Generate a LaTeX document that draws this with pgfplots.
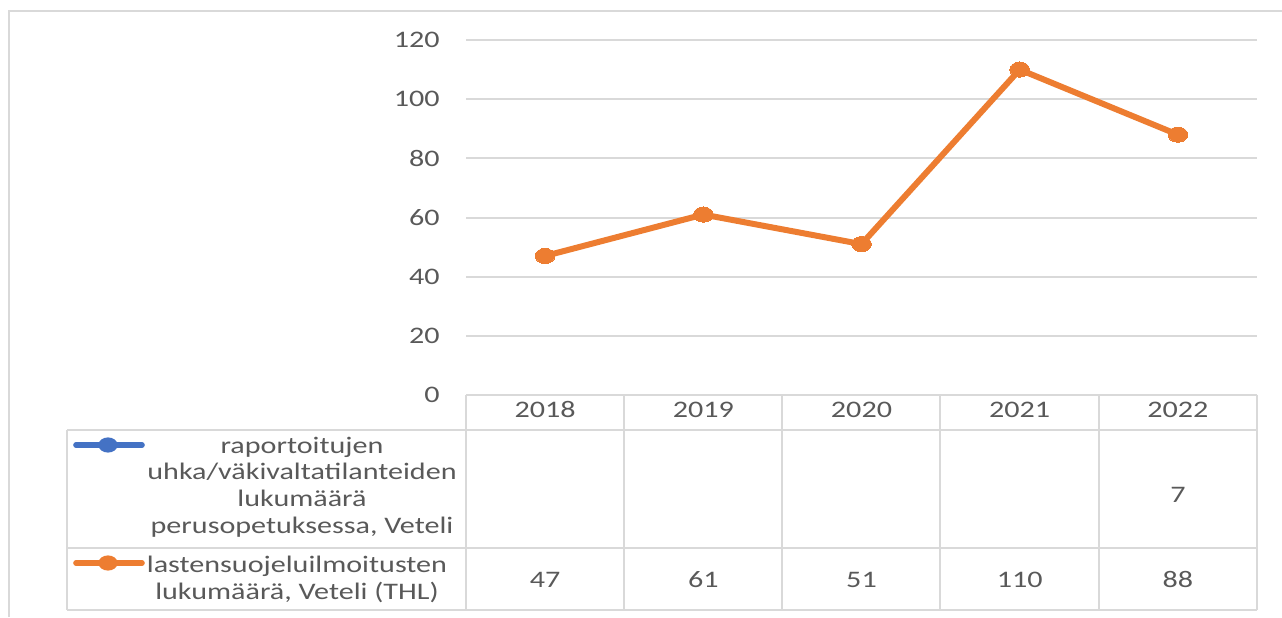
\documentclass[border=0pt]{standalone}
\usepackage{pgfplots}
\pgfplotsset{compat=1.18}
\usepackage{pgfplotstable}
\usepackage{fontspec}
\setmainfont{Carlito}[FakeStretch=1.27]
\definecolor{txt}{HTML}{595959}
\definecolor{gridc}{HTML}{D9D9D9}
\definecolor{c1}{HTML}{ED7D31}
\definecolor{c2}{HTML}{4472C4}
\newcommand{\fs}{\fontsize{11.85}{13.35}\selectfont}

\pgfplotstableread{
x year v
0 2018 47
1 2019 61
2 2020 51
3 2021 110
4 2022 88
}\lastens
\pgfplotstableread{
x year v
4 2022 7
}\uhka

\begin{document}
\begin{tikzpicture}[font=\fs, text=txt]
\path[use as bounding box] (0,0) rectangle (641pt,308.5pt);
% outer chart frame (top and left only visible)
\draw[gridc, line width=1pt] (4.25pt,0) -- (4.25pt,302.75pt) -- (641pt,302.75pt);

\begin{axis}[
  at={(233pt,111pt)}, anchor=south west,
  scale only axis, width=395.5pt, height=177.5pt,
  xmin=-0.5, xmax=4.5, ymin=0, ymax=120,
  xtick={0,1,2,3,4}, xticklabels={2018,2019,2020,2021,2022},
  ytick={0,20,...,120},
  ymajorgrids, grid style={gridc, line width=1pt},
  axis line style={draw=none},
  major tick length=0pt,
  clip=false,
  /pgf/number format/assume math mode=true,
  tick label style={font=\fs, text=txt},
  yticklabel style={anchor=east, inner sep=0pt, xshift=-13pt},
  xticklabel style={anchor=center, inner sep=0pt, yshift=-7.25pt},
  nodes near coords style={font=\fs, text=txt, anchor=center, inner sep=0pt},
]
\addplot[c1, line width=3pt, mark=*, mark size=3.8pt, mark options={xscale=1.3, fill=c1, draw=c1, line width=0pt}] table[x=x, y=v] {\lastens};
% data table values
\addplot[draw=none, mark=none, nodes near coords, point meta=explicit] table[x=x, y expr=-62.5, meta=v] {\lastens};
\addplot[draw=none, mark=none, nodes near coords, point meta=explicit] table[x=x, y expr=-33.8, meta=v] {\uhka};
\end{axis}

% data table grid
\begin{scope}[gridc, line width=1pt]
\draw (233pt,111pt) -- (628.5pt,111pt);
\draw (33.5pt,93.5pt) -- (628.5pt,93.5pt);
\draw (33.5pt,34.5pt) -- (628.5pt,34.5pt);
\draw (33.5pt,3.5pt) -- (628.5pt,3.5pt);
\draw (33.5pt,93.5pt) -- (33.5pt,3.5pt);
\foreach \xx in {233,312,391,470,549.5,628.5}{
  \draw (\xx pt,111pt) -- (\xx pt,3.5pt);
}
\end{scope}

% legend keys
\draw[c2, line width=2.8pt, line cap=round] (38pt,86pt) -- (71pt,86pt);
\fill[c2] (54pt,86pt) ellipse [x radius=4.8pt, y radius=3.8pt];
\draw[c1, line width=2.8pt, line cap=round] (38pt,27pt) -- (71pt,27pt);
\fill[c1] (54pt,27pt) ellipse [x radius=4.8pt, y radius=3.8pt];

% legend texts
\node[align=center, inner sep=0pt, text=txt] at (151pt,65pt)
  {raportoitujen\\uhka/väkivaltatilanteiden\\lukumäärä\\perusopetuksessa, Veteli};
\node[align=center, inner sep=0pt, text=txt] at (148.5pt,18.75pt)
  {lastensuojeluilmoitusten\\lukumäärä, Veteli (THL)};
\end{tikzpicture}
\end{document}
